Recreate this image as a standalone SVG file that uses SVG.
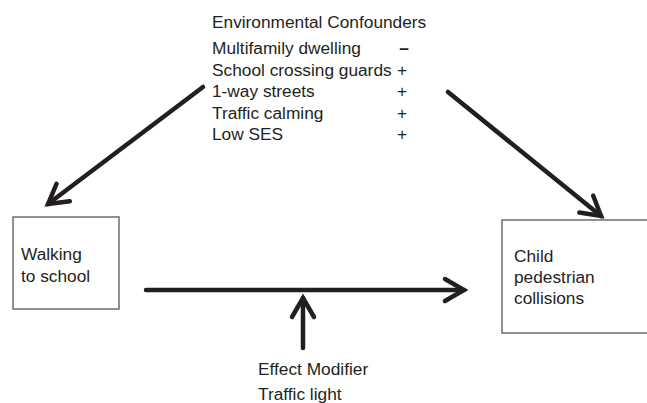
<svg xmlns="http://www.w3.org/2000/svg" width="647" height="403" viewBox="0 0 647 403">
<style>
text{font-family:"Liberation Sans",Arial,sans-serif;font-size:17.3px;fill:#231f20}
.box{fill:#fff;stroke:#6d6d6d;stroke-width:1.5}
.arr{stroke:#231f20;stroke-width:4.5;fill:none;stroke-linecap:round}
.sign{text-anchor:middle}
</style>
<defs>
<marker id="head" markerUnits="userSpaceOnUse" markerWidth="40" markerHeight="40" viewBox="-30 -20 40 40" refX="0" refY="0" orient="auto">
<path d="M-19,-11 L0,0 L-19,11" fill="none" stroke="#231f20" stroke-width="4.5" stroke-linecap="round" stroke-linejoin="miter"/>
</marker>
</defs>
<g id="confounders">
<text x="212" y="28">Environmental Confounders</text>
<text x="212" y="54">Multifamily dwelling</text>
<text x="212" y="76">School crossing guards</text>
<text x="212" y="97">1-way streets</text>
<text x="212" y="119">Traffic calming</text>
<text x="212" y="140">Low SES</text>
<text class="sign" x="404" y="54" style="font-weight:bold">–</text>
<text class="sign" x="402" y="76">+</text>
<text class="sign" x="402" y="97">+</text>
<text class="sign" x="402" y="119">+</text>
<text class="sign" x="402" y="140">+</text>
</g>
<g id="walking">
<rect class="box" x="13" y="217" width="106" height="92"/>
<text x="21" y="260">Walking</text>
<text x="21" y="282">to school</text>
</g>
<g id="collisions">
<rect class="box" x="502" y="220" width="150" height="113"/>
<text x="514" y="262">Child</text>
<text x="514" y="283">pedestrian</text>
<text x="514" y="304">collisions</text>
</g>
<g id="modifier">
<text x="258" y="375">Effect Modifier</text>
<text x="258" y="400">Traffic light</text>
</g>
<g id="connectors">
<line class="arr" x1="203" y1="87" x2="48" y2="204" marker-end="url(#head)"/>
<line class="arr" x1="448" y1="92" x2="601" y2="216" marker-end="url(#head)"/>
<line class="arr" x1="146" y1="290" x2="464" y2="290" marker-end="url(#head)"/>
<line class="arr" x1="303" y1="348" x2="303" y2="298" marker-end="url(#head)"/>
</g>
</svg>
